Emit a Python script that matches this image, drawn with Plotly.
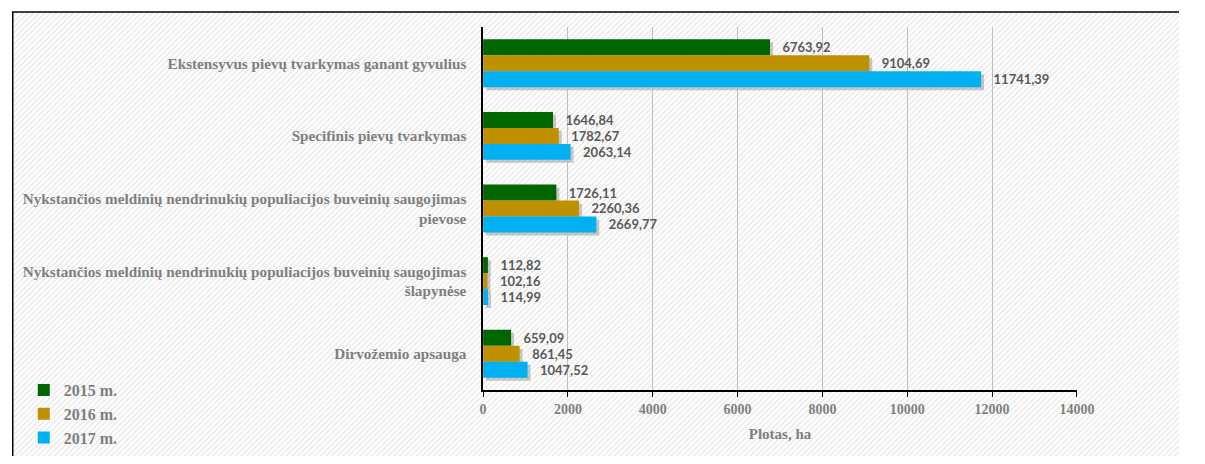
import plotly.graph_objects as go

categories = [
    "Ekstensyvus pievų tvarkymas ganant gyvulius",
    "Specifinis pievų tvarkymas",
    "Nykstančios meldinių nendrinukių populiacijos buveinių saugojimas<br>pievose",
    "Nykstančios meldinių nendrinukių populiacijos buveinių saugojimas<br>šlapynėse",
    "Dirvožemio apsauga",
]
years = ["2015 m.", "2016 m.", "2017 m."]
values_2015 = [6763.92, 1646.84, 1726.11, 112.82, 659.09]
values_2016 = [9104.69, 1782.67, 2260.36, 102.16, 861.45]
values_2017 = [11741.39, 2063.14, 2669.77, 114.99, 1047.52]
x_ticks = [0, 2000, 4000, 6000, 8000, 10000, 12000, 14000]
colors = ["#006600", "#BF9000", "#00B0F0"]

# page keeps its 8px body margin; the figure fills the rest of the window
W, H = 1189, 448
serif = "Liberation Serif, Times New Roman, serif"
gray = "#7F7F7F"

fig = go.Figure()

# hatched background on its own axes, drawn first
fig.add_trace(go.Scatter(
    x=[0, 1, 1, 0, 0], y=[0, 0, 1, 1, 0],
    xaxis="x", yaxis="y",
    mode="lines", fill="toself",
    line=dict(width=0),
    fillcolor="white",
    fillpattern=dict(shape="/", fgcolor="#d0d0d0", bgcolor="white", size=4, solidity=0.35),
    hoverinfo="skip", showlegend=False,
))

all_values = [values_2015, values_2016, values_2017]

# soft bar shadows (same data, axes nudged a few px right/down)
for vals in all_values:
    fig.add_trace(go.Bar(
        y=categories, x=vals, orientation="h",
        xaxis="x2", yaxis="y2",
        marker=dict(color="rgba(80,80,80,0.30)", line=dict(width=0)),
        hoverinfo="skip", showlegend=False,
    ))

for name, vals, col in zip(years, all_values, colors):
    fig.add_trace(go.Bar(
        y=categories, x=vals, name="<b>" + name + "</b>", orientation="h",
        xaxis="x3", yaxis="y3", legendgroup=name,
        marker=dict(color=col, line=dict(width=0)),
        texttemplate="<b>\u00a0\u00a0\u00a0%{x:.2f}</b>", textposition="outside",
        textfont=dict(family="Lato, Open Sans, sans-serif", size=13, color="#595959"),
        cliponaxis=False,
    ))

x0, x1 = 480 / W, 1085 / W
y0, y1 = (H - 382) / H, (H - 19) / H
sx, sy = 3 / W, 3 / H
top = 1 - 4 / H

fig.update_layout(
    autosize=True,
    margin=dict(l=0, r=0, t=0, b=0),
    paper_bgcolor="white", plot_bgcolor="rgba(0,0,0,0)",
    separators=",.",
    barmode="group", bargap=0.34, bargroupgap=0,
    xaxis=dict(domain=[0, 1], range=[0, 1], visible=False, fixedrange=True),
    yaxis=dict(domain=[0, top], range=[0, 1], visible=False, fixedrange=True),
    xaxis2=dict(domain=[x0 + sx, x1 + sx], anchor="y2", range=[0, 14000], visible=False),
    yaxis2=dict(domain=[y0 - sy, y1 - sy], anchor="x2", autorange="reversed",
                categoryorder="array", categoryarray=categories, visible=False),
    xaxis3=dict(
        domain=[x0, x1], anchor="y3", range=[0, 14000],
        tickvals=x_ticks, ticktext=["<b>%d</b>" % v for v in x_ticks],
        showgrid=True, gridcolor="#BFBFBF", gridwidth=1,
        showline=True, linecolor="black", linewidth=1.5,
        ticks="outside", ticklen=5, tickcolor="black",
        tickfont=dict(family=serif, size=14, color=gray),
        title=dict(text="<b>Plotas, ha</b>", font=dict(family=serif, size=15, color=gray), standoff=13),
        zeroline=False,
    ),
    yaxis3=dict(
        domain=[y0, y1], anchor="x3", autorange="reversed",
        categoryorder="array", categoryarray=categories,
        tickvals=categories, ticktext=["<b>" + c + "</b>" for c in categories],
        showline=True, linecolor="black", linewidth=1.5,
        ticks="", ticklabelstandoff=12,
        tickfont=dict(family=serif, size=15.2, color=gray),
    ),
    legend=dict(
        x=12 / W, y=(H - 365) / H, xanchor="left", yanchor="top",
        bgcolor="rgba(0,0,0,0)", traceorder="normal",
        font=dict(family=serif, size=16, color=gray),
        itemwidth=30, tracegroupgap=14,
    ),
    shapes=[
        dict(type="line", xref="paper", yref="paper", x0=0, x1=1, y0=top, y1=top,
             line=dict(color="black", width=1.5)),
        dict(type="line", xref="paper", yref="paper", x0=0.75 / W, x1=0.75 / W, y0=0, y1=top,
             line=dict(color="black", width=1.5)),
    ],
)

fig.write_html("out.html", config={"displayModeBar": False},
               default_width="100%", default_height="calc(100vh - 16px)")
